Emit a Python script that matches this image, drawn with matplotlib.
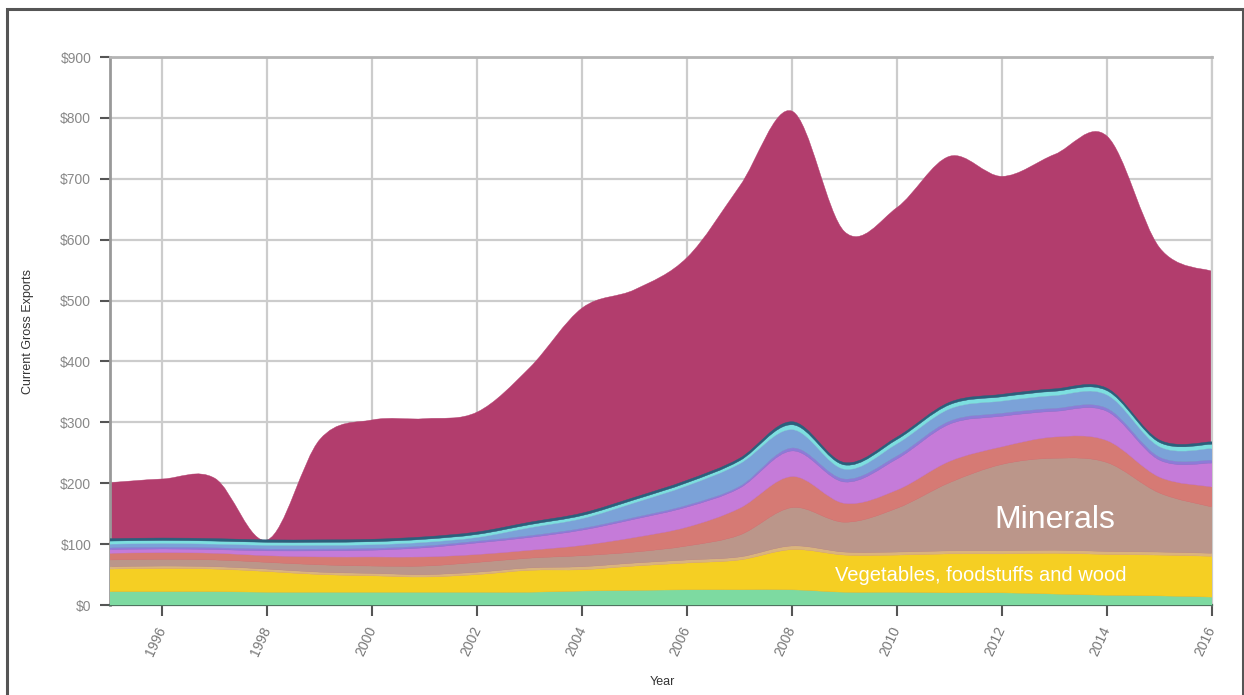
import matplotlib
matplotlib.use("Agg")
import matplotlib.pyplot as plt
from matplotlib.path import Path
from matplotlib.patches import PathPatch, Rectangle
import numpy as np

plt.rcParams['font.family'] = ['Liberation Sans', 'DejaVu Sans']

# values in $ (billions)
years = list(range(1995, 2017))
textiles = [22, 22, 22, 21, 21, 21, 21, 21, 21, 23, 24, 25, 25, 25, 21, 21, 20, 20, 18, 16, 15, 13]
vegetables = [37, 38, 37, 34, 29, 27, 25, 29, 36, 35, 40, 44, 49, 66, 61, 61, 64, 64, 67, 67, 67, 67]
stone = [4, 4, 4, 4, 4, 4, 4, 4, 4, 5, 5, 5, 5, 6, 5, 5, 5, 5, 5, 5, 5, 5]
minerals = [11, 11, 11, 11, 12, 12, 14, 16, 16, 18, 18, 23, 36, 63, 49, 72, 112, 142, 151, 146, 97, 76]
metals = [11, 11, 11, 11, 13, 15, 15, 13, 13, 17, 24, 31, 44, 51, 31, 30, 35, 29, 35, 36, 26, 33]
chemicals = [6, 6, 6, 8, 10, 11, 15, 19, 21, 25, 30, 33, 33, 42, 35, 51, 61, 50, 42, 48, 28, 39]
vehicles = [3, 3, 3, 3, 3, 3, 3, 3, 3, 3, 3, 3, 3, 5, 5, 5, 5, 5, 5, 5, 5, 5]
machinery = [6, 6, 6, 6, 6, 6, 6, 6, 13, 16, 24, 32, 37, 30, 16, 20, 20, 20, 21, 22, 17, 19]
electronics = [5, 5, 5, 5, 5, 5, 5, 5, 5, 5, 5, 5, 5, 8, 7, 7, 7, 7, 7, 7, 7, 7]
other = [4, 4, 4, 4, 4, 4, 4, 4, 4, 4, 4, 4, 4, 5, 4, 4, 4, 4, 4, 4, 4, 4]
services = [92, 97, 99, 0, 165, 196, 194, 197, 254, 337, 341, 366, 447, 510, 379, 377, 404, 358, 385, 414, 316, 280]

layers = [textiles, vegetables, stone, minerals, metals, chemicals,
          vehicles, machinery, electronics, other]
colors = ['#7ddaa1', '#f5cf23', '#dab47d', '#bb968a', '#d67a74', '#c57bd9',
          '#8d7bd8', '#7ba2d8', '#7ddfe0', '#2a607c']
top_color = '#b23d6d'

yticks = list(range(0, 1000, 100))
ytick_labels = ['$0'] + ['$%d' % v for v in yticks[1:]]
xticks = list(range(1996, 2017, 2))


def cardinal(xs, ys):
    # catmull-rom curve as cubic bezier pieces
    n = len(xs)
    verts = [(xs[0], ys[0])]
    codes = [Path.MOVETO]
    for i in range(n - 1):
        i0, i3 = max(i - 1, 0), min(i + 2, n - 1)
        x0, y0 = xs[i0], ys[i0]
        x1, y1 = xs[i], ys[i]
        x2, y2 = xs[i + 1], ys[i + 1]
        x3, y3 = xs[i3], ys[i3]
        verts += [(x1 + (x2 - x0) / 6, y1 + (y2 - y0) / 6),
                  (x2 - (x3 - x1) / 6, y2 - (y3 - y1) / 6),
                  (x2, y2)]
        codes += [Path.CURVE4] * 3
    return verts, codes


def area(ax, xs, lo, hi, color, z):
    v1, c1 = cardinal(xs, lo)
    v2, c2 = cardinal(xs[::-1], hi[::-1])
    c2[0] = Path.LINETO
    verts = v1 + v2 + [v1[0]]
    codes = c1 + c2 + [Path.CLOSEPOLY]
    ax.add_patch(PathPatch(Path(verts, codes), facecolor=color,
                           edgecolor=color, lw=0.3, zorder=z))


fig = plt.figure(figsize=(12.44, 6.95), dpi=100)
ax = fig.add_axes([110 / 1244, 1 - 605 / 695, 1102 / 1244, 548 / 695])

x = np.array(years, dtype=float)
cum = np.cumsum(np.array(layers, dtype=float), axis=0)
total = cum[-1] + np.array(services, dtype=float)

# top layer drawn from the baseline, the stack covers it
area(ax, x, np.zeros_like(x), total, top_color, 2)
lower = np.zeros_like(x)
for i, col in enumerate(colors):
    area(ax, x, lower, cum[i], col, 3 + i)
    lower = cum[i]

ax.text(2013.0, 140, 'Minerals', color='white', fontsize=23,
        ha='center', va='center', zorder=20)
ax.text(2011.6, 49, 'Vegetables, foodstuffs and wood', color='white',
        fontsize=14.5, ha='center', va='center', zorder=20)

ax.set_xlim(1995, 2016)
ax.set_ylim(0, 900)
ax.set_yticks(yticks)
ax.set_yticklabels(ytick_labels)
ax.set_xticks(xticks)
ax.set_xticklabels([str(t) for t in xticks], rotation=65, ha='right',
                   rotation_mode='anchor', va='center')
ax.grid(True, color='#cccccc', lw=1.6)
ax.set_axisbelow(True)

ax.tick_params(axis='y', length=7.5, width=1.5, color='#555555',
               labelsize=10, labelcolor='#888888', pad=6)
ax.tick_params(axis='x', length=8, width=1.5, color='#555555',
               labelsize=10, labelcolor='#777777', pad=8)
ax.spines['left'].set_color('#999999')
ax.spines['left'].set_linewidth(2)
ax.spines['bottom'].set_color('#4f7360')
ax.spines['bottom'].set_linewidth(1.6)
ax.spines['top'].set_color('#b4b4b4')
ax.spines['top'].set_linewidth(2)
ax.spines['right'].set_color('#cccccc')
ax.spines['right'].set_linewidth(1.6)

fig.text(28 / 1244, 1 - 332 / 695, 'Current Gross Exports', rotation=90,
         fontsize=9, ha='center', va='center', color='#333333')
fig.text(662 / 1244, 1 - 682 / 695, 'Year', fontsize=9,
         ha='center', va='center', color='#333333')

fig.patches.append(Rectangle((7.5 / 1244, -0.05), 1235 / 1244, 1.05 - 9.5 / 695,
                             transform=fig.transFigure, fill=False,
                             edgecolor='#555555', lw=2.2))

fig.savefig('out.png', dpi=100)
